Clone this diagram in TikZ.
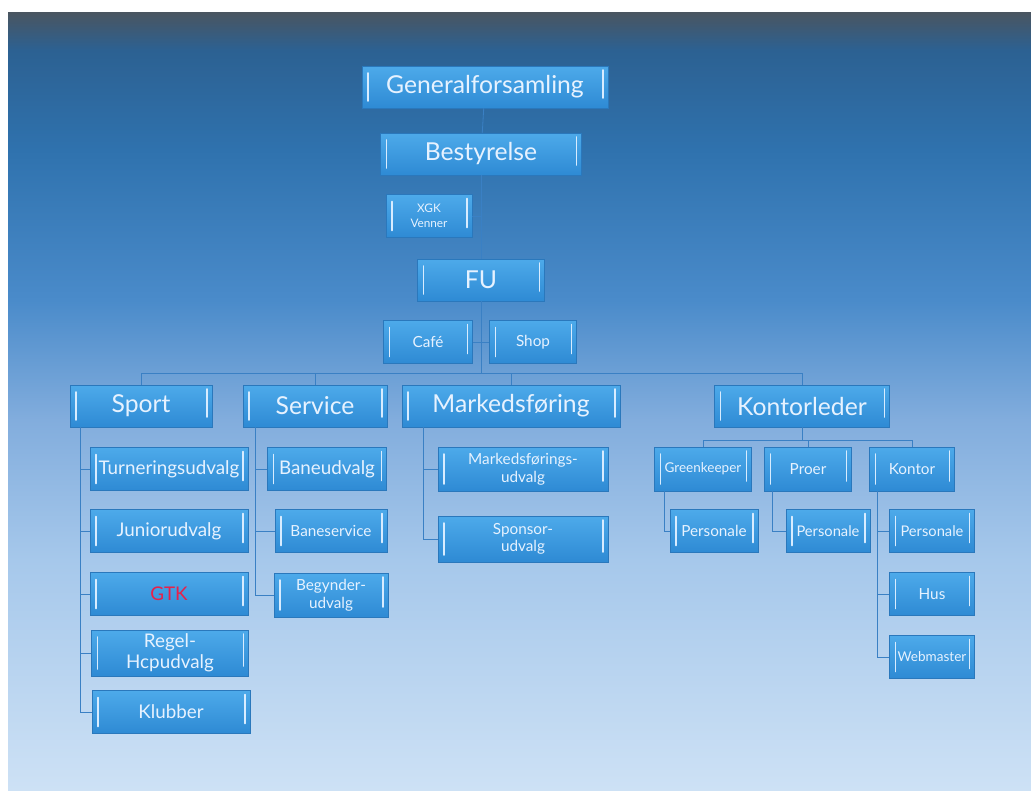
\documentclass[tikz,border=0pt]{standalone}
\usepackage{fontspec}
\setmainfont{Lato}
\usepackage{xcolor}
\usetikzlibrary{positioning,calc}

\definecolor{bgA}{HTML}{4A5560}
\definecolor{bgB}{HTML}{2C6192}
\definecolor{bgC}{HTML}{2F72AE}
\definecolor{bgD}{HTML}{4A8BCA}
\definecolor{bgE}{HTML}{82ADDD}
\definecolor{bgF}{HTML}{A6C8EB}
\definecolor{bgG}{HTML}{CDE1F5}
\definecolor{boxtop}{HTML}{4DAAEA}
\definecolor{boxbot}{HTML}{2E8AD4}
\definecolor{boxedge}{HTML}{2A78BC}
\definecolor{boxtext}{HTML}{E6F2FF}
\definecolor{barwhite}{HTML}{D8ECFF}
\definecolor{lineblue}{HTML}{3A80C4}
\definecolor{gtkred}{HTML}{E8204A}

\newlength\pxl
\setlength\pxl{0.85pt}

\tikzset{
  orgbox/.style={draw=boxedge, line width=0.4pt, top color=boxtop, bottom color=boxbot,
    text=boxtext, inner sep=1pt, align=center,
    path picture={
      \draw[barwhite, line width=1.3pt, line cap=round]
        ([xshift=6\pxl,yshift=-7\pxl]path picture bounding box.north west) --
        ([xshift=6\pxl,yshift=7\pxl]path picture bounding box.south west);
      \draw[barwhite, line width=1.3pt, line cap=round]
        ([xshift=-5\pxl,yshift=-4\pxl]path picture bounding box.north east) --
        ([xshift=-5\pxl,yshift=10\pxl]path picture bounding box.south east);
    }},
  bigbox/.style={orgbox, minimum height=42\pxl, font=\fontsize{21}{23}\selectfont},
  midbox/.style={orgbox, minimum height=43\pxl, font=\fontsize{16}{18}\selectfont},
  smallbox/.style={orgbox, minimum height=43\pxl, font=\fontsize{13}{15}\selectfont},
  tinybox/.style={orgbox, minimum height=43\pxl, font=\fontsize{10}{13}\selectfont},
  orgline/.style={draw=lineblue, line width=0.7pt}
}

\begin{document}
\begin{tikzpicture}[x=0.85pt, y=-0.85pt]
% background
\fill[white] (0,0) rectangle (1031,790);
\shade[top color=bgA, bottom color=bgB] (8,12) rectangle (1031,50);
\shade[top color=bgB, bottom color=bgC] (8,50) rectangle (1031,150);
\shade[top color=bgC, bottom color=bgD] (8,150) rectangle (1031,300);
\shade[top color=bgD, bottom color=bgE] (8,300) rectangle (1031,420);
\shade[top color=bgE, bottom color=bgF] (8,420) rectangle (1031,560);
\shade[top color=bgF, bottom color=bgG] (8,560) rectangle (1031,790);

% top levels
\node[bigbox, minimum width=246\pxl] (gen) at (485,87) {Generalforsamling};
\node[bigbox, minimum width=201\pxl] (best) at (481,154) {Bestyrelse};
\node[tinybox, minimum width=86\pxl] (venner) at (429,216) {XGK\\Venner};
\node[bigbox, minimum width=127\pxl] (fu) at (481,280) {FU};
\node[smallbox, minimum width=89\pxl] (cafe) at (428,342) {Café};
\node[smallbox, minimum width=87\pxl] (shop) at (533,342) {Shop};

% second level
\node[bigbox, minimum width=142\pxl] (sport) at (141,406) {Sport};
\node[bigbox, minimum width=144\pxl] (service) at (315,406) {Service};
\node[bigbox, minimum width=218\pxl] (mark) at (511,406) {Markedsføring};
\node[bigbox, minimum width=175\pxl] (kontorl) at (802,406) {Kontorleder};

% Sport
\node[midbox, minimum width=158\pxl] (turn) at (169,469) {Turneringsudvalg};
\node[midbox, minimum width=158\pxl] (junior) at (169,531) {Juniorudvalg};
\node[midbox, minimum width=158\pxl, text=gtkred] (gtk) at (169,594) {GTK};
\node[midbox, minimum width=157\pxl, minimum height=46\pxl] (regel) at (170,653) {Regel-\\Hcpudvalg};
\node[midbox, minimum width=158\pxl] (klub) at (171,712) {Klubber};

% Service
\node[midbox, minimum width=119\pxl] (baneu) at (327,469) {Baneudvalg};
\node[smallbox, minimum width=112\pxl] (banes) at (331,531) {Baneservice};
\node[smallbox, minimum width=114\pxl, minimum height=44\pxl] (begyn) at (331,595) {Begynder-\\udvalg};

% Markedsforing
\node[smallbox, minimum width=170\pxl, minimum height=44\pxl] (marku) at (523,469) {Markedsførings-\\udvalg};
\node[smallbox, minimum width=170\pxl, minimum height=46\pxl] (spons) at (523,539) {Sponsor-\\udvalg};

% Kontorleder
\node[smallbox, minimum width=97\pxl, minimum height=44\pxl, font=\fontsize{11.5}{14}\selectfont] (green) at (703,469) {Greenkeeper};
\node[smallbox, minimum width=87\pxl, minimum height=44\pxl] (proer) at (808,469) {Proer};
\node[smallbox, minimum width=85\pxl, minimum height=44\pxl] (kontor) at (912,469) {Kontor};
\node[smallbox, minimum width=88\pxl] (pers1) at (714,531) {Personale};
\node[smallbox, minimum width=84\pxl, font=\fontsize{12.5}{15}\selectfont] (pers2) at (828,531) {Personale};
\node[smallbox, minimum width=85\pxl, font=\fontsize{12.5}{15}\selectfont] (pers3) at (932,531) {Personale};
\node[smallbox, minimum width=85\pxl] (hus) at (932,594) {Hus};
\node[smallbox, minimum width=85\pxl, font=\fontsize{11.5}{14}\selectfont] (web) at (932,657) {Webmaster};

% connectors
\draw[orgline] (gen) -- (best);
\draw[orgline] (best) -- (fu);
\draw[orgline] (venner.east) -- (venner.east -| best.south);
\draw[orgline] (cafe.east) -- (shop.west);
\coordinate (bus) at (481,373);
\draw[orgline] (fu.south) -- (bus);
\draw[orgline] (sport.north) |- (bus) -| (kontorl.north);
\draw[orgline] (service.north) -- (service.north |- bus);
\draw[orgline] (mark.north) -- (mark.north |- bus);

\coordinate (spx) at ([xshift=11\pxl]sport.south west);
\draw[orgline] (spx) |- (klub.west);
\foreach \c in {turn,junior,gtk,regel}
  \draw[orgline] (\c.west) -- (\c.west -| spx);

\coordinate (sex) at ([xshift=13\pxl]service.south west);
\draw[orgline] (sex) |- (begyn.west);
\foreach \c in {baneu,banes}
  \draw[orgline] (\c.west) -- (\c.west -| sex);

\coordinate (mkx) at ([xshift=22\pxl]mark.south west);
\draw[orgline] (mkx) |- (spons.west);
\draw[orgline] (marku.west) -- (marku.west -| mkx);

\coordinate (kbus) at (802,440);
\draw[orgline] (kontorl.south) -- (kbus);
\draw[orgline] (green.north) |- (kbus) -| (kontor.north);
\draw[orgline] (proer.north) -- (proer.north |- kbus);
\draw[orgline] ([xshift=10\pxl]green.south west) |- (pers1.west);
\draw[orgline] ([xshift=8\pxl]proer.south west) |- (pers2.west);
\coordinate (kox) at ([xshift=8\pxl]kontor.south west);
\draw[orgline] (kox) |- (web.west);
\foreach \c in {pers3,hus}
  \draw[orgline] (\c.west) -- (\c.west -| kox);
\end{tikzpicture}
\end{document}
